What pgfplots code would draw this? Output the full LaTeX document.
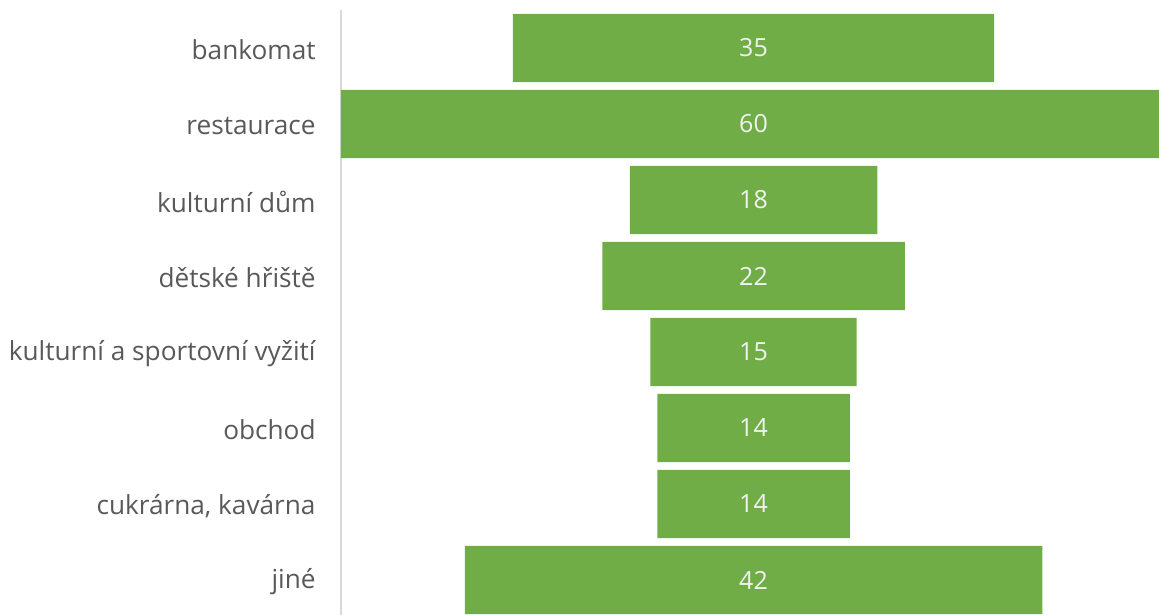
\documentclass[border=0pt]{standalone}
\usepackage{pgfplots}
\pgfplotsset{compat=1.18}
\usepackage{fontspec}
\setmainfont{Open Sans}
\definecolor{barg}{HTML}{70AD47}
\definecolor{lab}{HTML}{595959}
\definecolor{axl}{HTML}{D9D9D9}
\begin{document}
\begin{tikzpicture}
  \begin{axis}[
      scale only axis,
      width=412.5pt, height=304pt,
      xmin=0, xmax=60,
      ymin=-0.5, ymax=7.5,
      y dir=reverse,
      stack plots=x,
      bar width=0.9,
      axis x line=none,
      axis y line*=left,
      y axis line style={axl, line width=0.8pt, -},
      ytick={0,...,7},
      yticklabels={bankomat, restaurace, kulturní dům, dětské hřiště,
        kulturní a sportovní vyžití, obchod, cukrárna{,} kavárna, jiné},
      major tick length=0pt,
      yticklabel style={font=\fontsize{13.1}{15}\selectfont, text=lab,
        inner sep=0pt, xshift=-12.5pt, yshift=-1pt},
      clip=false,
    ]
    % invisible offset that centres each bar
    \addplot[xbar, bar shift=0pt, draw=none, fill=none] coordinates {
      (12.5,0) (0,1) (21,2) (19,3) (22.5,4) (23,5) (23,6) (9,7)};
    \addplot[xbar, bar shift=0pt, draw=none, fill=barg] coordinates {
      (35,0) (60,1) (18,2) (22,3) (15,4) (14,5) (14,6) (42,7)};
    \addplot[stack plots=false, only marks, mark=none,
      nodes near coords, point meta=explicit symbolic,
      every node near coord/.append style={anchor=center,
        font=\fontsize{12.5}{14}\selectfont, text=white!95!black}]
      coordinates {
      (30,0) [35] (30,1) [60] (30,2) [18] (30,3) [22]
      (30,4) [15] (30,5) [14] (30,6) [14] (30,7) [42]};
  \end{axis}
  \pgfresetboundingbox
  \path ([xshift=-170.5pt, yshift=1.5pt]current axis.south west)
    rectangle ([xshift=-3.5pt, yshift=5pt]current axis.north east);
\end{tikzpicture}
\end{document}
